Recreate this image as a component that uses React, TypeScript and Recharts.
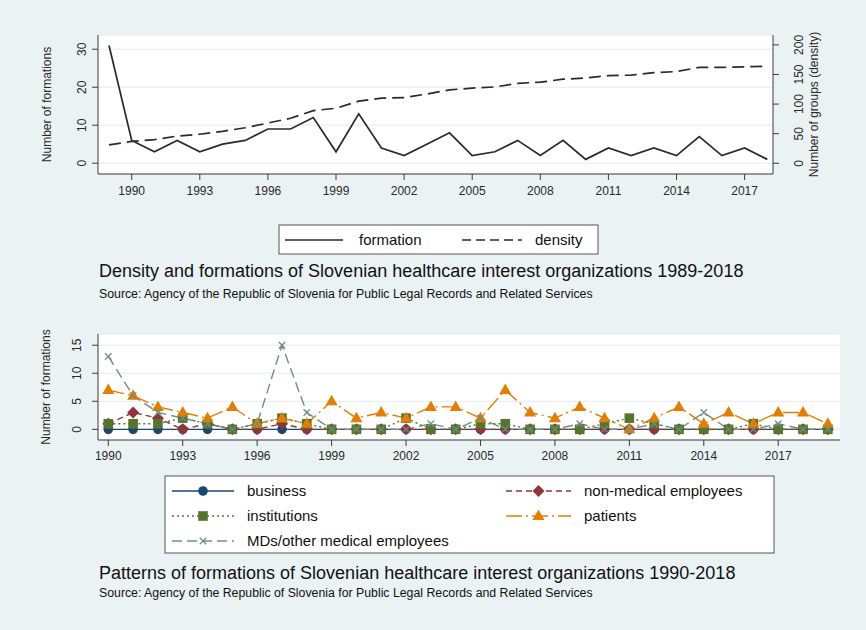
import React from "react";
import { LineChart, Line, XAxis, YAxis, CartesianGrid } from "recharts";

// Upper panel: yearly formations and group density (1989-2018)
const topYears = [
  1989, 1990, 1991, 1992, 1993, 1994, 1995, 1996, 1997, 1998, 1999, 2000, 2001, 2002, 2003,
  2004, 2005, 2006, 2007, 2008, 2009, 2010, 2011, 2012, 2013, 2014, 2015, 2016, 2017, 2018,
];
const formations = [
  31, 6, 3, 6, 3, 5, 6, 9, 9, 12, 3, 13, 4, 2, 5, 8, 2, 3, 6, 2, 6, 1, 4, 2, 4, 2, 7, 2, 4, 1,
];
const density = [
  31, 37, 40, 46, 49, 54, 60, 68, 76, 89, 93, 105, 110, 111, 117, 124, 127, 129, 135, 137,
  142, 144, 148, 149, 153, 155, 162, 162, 163, 164,
];
const topXTicks = [1990, 1993, 1996, 1999, 2002, 2005, 2008, 2011, 2014, 2017];
const formationTicks = [0, 10, 20, 30];
const densityTicks = [0, 50, 100, 150, 200];

// Lower panel: formations by type of organization
const bottomYears = [
  1990, 1991, 1992, 1993, 1994, 1995, 1996, 1997, 1998, 1999, 2000, 2001, 2002, 2003, 2004,
  2005, 2006, 2007, 2008, 2009, 2010, 2011, 2012, 2013, 2014, 2015, 2016, 2017, 2018, 2019,
];
const business = [
  0, 0, 0, 0, 0, 0, 0, 0, 0, 0, 0, 0, 0, 0, 0, 0, 0, 0, 0, 0, 0, 0, 0, 0, 0, 0, 0, 0, 0, 0,
];
const nonMedical = [
  1, 3, 2, 0, 1, 0, 0, 1, 0, 0, 0, 0, 0, 0, 0, 0, 0, 0, 0, 0, 0, 0, 0, 0, 0, 0, 0, 0, 0, 0,
];
const institutions = [
  1, 1, 1, 2, 1, 0, 1, 2, 1, 0, 0, 0, 2, 0, 0, 1, 1, 0, 0, 0, 1, 2, 1, 0, 0, 0, 1, 0, 0, 0,
];
const patients = [
  7, 6, 4, 3, 2, 4, 1, 2, 1, 5, 2, 3, 2, 4, 4, 2, 7, 3, 2, 4, 2, 0, 2, 4, 1, 3, 1, 3, 3, 1,
];
const medical = [
  13, 6, 3, 2, 1, 0, 1, 15, 3, 0, 0, 0, 0, 1, 0, 2, 0, 0, 0, 1, 0, 0, 1, 0, 3, 0, 0, 1, 0, 0,
];
const bottomXTicks = [1990, 1993, 1996, 1999, 2002, 2005, 2008, 2011, 2014, 2017];
const bottomYTicks = [0, 5, 10, 15];

const FONT = "'Liberation Sans', Arial, Helvetica, sans-serif";
const BG = "#eaf2f3";
const GRID = "#e3ebed";
const AXIS = "#3c3c3c";
const INK = "#2a2a2a";

const NAVY = "#1a476f";
const MAROON = "#90353b";
const FOREST = "#55752f";
const ORANGE = "#e37e00";
const TEAL = "#6e8e84";

type Shape = "circle" | "diamond" | "square" | "triangle" | "cross";

function Marker({ shape, cx, cy, color }: { shape: Shape; cx: number; cy: number; color: string }) {
  if (cx == null || cy == null) return null;
  switch (shape) {
    case "circle":
      return <circle cx={cx} cy={cy} r={4.8} fill={color} />;
    case "diamond":
      return (
        <polygon
          points={`${cx},${cy - 6} ${cx + 6},${cy} ${cx},${cy + 6} ${cx - 6},${cy}`}
          fill={color}
        />
      );
    case "square":
      return <rect x={cx - 4.8} y={cy - 4.8} width={9.6} height={9.6} fill={color} />;
    case "triangle":
      return (
        <polygon
          points={`${cx},${cy - 6.5} ${cx + 6},${cy + 4} ${cx - 6},${cy + 4}`}
          fill={color}
        />
      );
    case "cross":
      return (
        <path
          d={`M${cx - 3.2},${cy - 3.2}L${cx + 3.2},${cy + 3.2}M${cx - 3.2},${cy + 3.2}L${cx + 3.2},${cy - 3.2}`}
          stroke={color}
          strokeWidth={1.3}
          fill="none"
        />
      );
  }
  return null;
}

const dotOf = (shape: Shape, color: string) => (p: any) => (
  <Marker key={`${shape}-${p.index}`} shape={shape} cx={p.cx} cy={p.cy} color={color} />
);

// y-axis labels are written sideways, reading bottom to top
function SideTick(props: any) {
  const { x, y, payload, side } = props;
  const bx = side === "right" ? x + 8.6 : x;
  return (
    <text
      x={bx}
      y={y}
      transform={`rotate(-90 ${bx} ${y})`}
      textAnchor="middle"
      fontSize={12}
      fill={INK}
    >
      {payload.value}
    </text>
  );
}

const series = [
  { key: "business", label: "business", color: NAVY, shape: "circle" as Shape, dash: undefined },
  { key: "nonMedical", label: "non-medical employees", color: MAROON, shape: "diamond" as Shape, dash: "6 4" },
  { key: "institutions", label: "institutions", color: FOREST, shape: "square" as Shape, dash: "2 3" },
  { key: "patients", label: "patients", color: ORANGE, shape: "triangle" as Shape, dash: "16 4 2 4" },
  { key: "medical", label: "MDs/other medical employees", color: TEAL, shape: "cross" as Shape, dash: "10 5" },
];

function LegendKey({ x1, x2, y, color, dash, shape }: any) {
  return (
    <g>
      <line x1={x1} x2={x2} y1={y} y2={y} stroke={color} strokeWidth={1.4} strokeDasharray={dash} />
      <Marker shape={shape} cx={(x1 + x2) / 2} cy={y} color={color} />
    </g>
  );
}

export default function App() {
  const topData = topYears.map((year, i) => ({
    year,
    formation: formations[i],
    density: density[i],
  }));
  const bottomData = bottomYears.map((year, i) => ({
    year,
    business: business[i],
    nonMedical: nonMedical[i],
    institutions: institutions[i],
    patients: patients[i],
    medical: medical[i],
  }));

  // legend layout for the lower panel: two columns, three rows
  const legendSlots = [
    { col: 0, row: 0 },
    { col: 1, row: 0 },
    { col: 0, row: 1 },
    { col: 1, row: 1 },
    { col: 0, row: 2 },
  ];
  const colX = [
    { k1: 172, k2: 234, t: 247 },
    { k1: 506, k2: 571, t: 584 },
  ];
  const rowY = [491, 516, 541];

  return (
    <div
      style={{
        position: "absolute",
        left: 0,
        top: 0,
        width: 866,
        height: 630,
        background: BG,
        fontFamily: FONT,
        overflow: "hidden",
      }}
    >
      <div style={{ position: "absolute", left: 0, top: 0 }}>
        <LineChart
          width={866}
          height={215}
          data={topData}
          margin={{ top: 35, right: 43, bottom: 11, left: 38 }}
        >
          <CartesianGrid vertical={false} stroke={GRID} fill="#ffffff" />
          <XAxis
            dataKey="year"
            type="number"
            domain={[1988.515, 2018.25]}
            ticks={topXTicks}
            allowDataOverflow
            interval={0}
            height={30}
            tickSize={6}
            tickMargin={6}
            stroke={AXIS}
            tick={{ fontSize: 12, fill: INK }}
          />
          <YAxis
            type="number"
            domain={[-2.85, 33.75]}
            ticks={formationTicks}
            allowDataOverflow
            interval={0}
            width={60}
            tickSize={6}
            tickMargin={6}
            stroke={AXIS}
            tick={(p: any) => <SideTick {...p} side="left" />}
          />
          <YAxis
            yAxisId="right"
            orientation="right"
            type="number"
            domain={[-18.1, 216.7]}
            ticks={densityTicks}
            allowDataOverflow
            interval={0}
            width={50}
            tickSize={6}
            tickMargin={15}
            stroke={AXIS}
            tick={(p: any) => <SideTick {...p} side="right" />}
          />
          <Line
            dataKey="formation"
            stroke={INK}
            strokeWidth={1.7}
            dot={false}
            activeDot={false}
            isAnimationActive={false}
          />
          <Line
            yAxisId="right"
            dataKey="density"
            stroke={INK}
            strokeWidth={1.7}
            strokeDasharray="12 6"
            dot={false}
            activeDot={false}
            isAnimationActive={false}
          />
        </LineChart>
      </div>

      <div style={{ position: "absolute", left: 0, top: 300 }}>
        <LineChart
          width={866}
          height={170}
          data={bottomData}
          margin={{ top: 34, right: 26, bottom: 5, left: 38 }}
        >
          <CartesianGrid vertical={false} stroke={GRID} fill="#ffffff" />
          <XAxis
            dataKey="year"
            type="number"
            domain={[1989.585, 2019.49]}
            ticks={bottomXTicks}
            allowDataOverflow
            interval={0}
            height={25}
            tickSize={6}
            tickMargin={5}
            stroke={AXIS}
            tick={{ fontSize: 12, fill: INK }}
          />
          <YAxis
            type="number"
            domain={[-1.9, 17]}
            ticks={bottomYTicks}
            allowDataOverflow
            interval={0}
            width={60}
            tickSize={6}
            tickMargin={11}
            stroke={AXIS}
            tick={(p: any) => <SideTick {...p} side="left" />}
          />
          {series.map((s) => (
            <Line
              key={s.key}
              dataKey={s.key}
              stroke={s.color}
              strokeWidth={1.4}
              strokeDasharray={s.dash}
              dot={dotOf(s.shape, s.color)}
              activeDot={false}
              isAnimationActive={false}
            />
          ))}
        </LineChart>
      </div>

      <svg
        width={866}
        height={630}
        style={{ position: "absolute", left: 0, top: 0, pointerEvents: "none" }}
        fontFamily={FONT}
      >
        {/* axis titles */}
        <text x={51} y={104.5} transform="rotate(-90 51 104.5)" textAnchor="middle" fontSize={12} fill={INK}>
          Number of formations
        </text>
        <text x={818} y={104.5} transform="rotate(-90 818 104.5)" textAnchor="middle" fontSize={12} fill={INK}>
          Number of groups (density)
        </text>
        <text x={50} y={387} transform="rotate(-90 50 387)" textAnchor="middle" fontSize={12} fill={INK}>
          Number of formations
        </text>

        {/* upper legend */}
        <rect x={279} y={225} width={319} height={29} fill="#ffffff" stroke="#555" strokeWidth={1} />
        <line x1={285} x2={343} y1={240} y2={240} stroke={INK} strokeWidth={1.6} />
        <text x={359} y={245} fontSize={15} fill="#111">formation</text>
        <line x1={462} x2={522} y1={240} y2={240} stroke={INK} strokeWidth={1.6} strokeDasharray="9 5" />
        <text x={535} y={245} fontSize={15} fill="#111">density</text>

        <text x={99} y={276.5} fontSize={18} fill="#111">
          Density and formations of Slovenian healthcare interest organizations 1989-2018
        </text>
        <text x={99} y={297.5} fontSize={12.3} fill="#111">
          Source: Agency of the Republic of Slovenia for Public Legal Records and Related Services
        </text>

        {/* lower legend */}
        <rect x={165} y={476} width={609} height={77} fill="#ffffff" stroke="#555" strokeWidth={1} />
        {series.map((s, i) => {
          const c = colX[legendSlots[i].col];
          const y = rowY[legendSlots[i].row];
          return (
            <g key={s.key}>
              <LegendKey x1={c.k1} x2={c.k2} y={y} color={s.color} dash={s.dash} shape={s.shape} />
              <text x={c.t} y={y + 5} fontSize={15} fill="#111">
                {s.label}
              </text>
            </g>
          );
        })}

        <text x={99} y={578.5} fontSize={18} fill="#111">
          Patterns of formations of Slovenian healthcare interest organizations 1990-2018
        </text>
        <text x={99} y={597} fontSize={12.3} fill="#111">
          Source: Agency of the Republic of Slovenia for Public Legal Records and Related Services
        </text>
      </svg>
    </div>
  );
}
